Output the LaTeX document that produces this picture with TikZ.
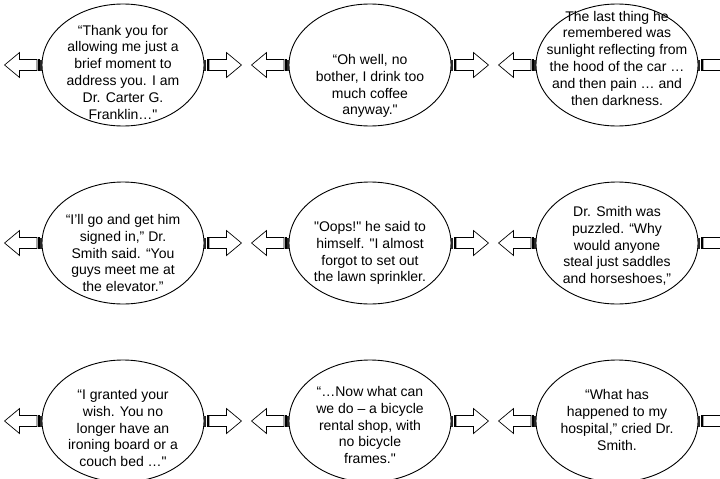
\documentclass[tikz,border=0pt]{standalone}
\usepackage{fontspec}
\setmainfont{Liberation Sans}[Ligatures=TeXOff]
\usetikzlibrary{shapes.geometric,positioning}
\tikzstyle{bubble} = [ellipse, draw, line width=0.9pt,
    minimum width=162pt, minimum height=122pt, inner sep=0pt]
\tikzstyle{quote} = [align=center, inner sep=0pt,
    font=\fontsize{14}{16.8}\selectfont]
\tikzset{stripearrow/.pic={
    \fill[black!85] (0,-5.5) rectangle (1.6,5.5);
    \draw[fill=black!45, line width=0.4pt] (2.4,-5.5) rectangle (3.8,5.5);
    \draw[fill=white, line width=0.7pt] (4.6,-5.5) -- (22,-5.5) -- (22,-12.5)
        -- (37,0) -- (22,12.5) -- (22,5.5) -- (4.6,5.5) -- cycle;
}}

\begin{document}
\begin{tikzpicture}[x=1pt, y=-1pt, node distance=247pt]
    \useasboundingbox (0,0) rectangle (720,479);
    \clip (0,0) rectangle (720,479);
    % Place bubbles
    \node [bubble] (b11) at (123,65) {};
    \node [bubble, right of=b11] (b12) {};
    \node [bubble, right of=b12] (b13) {};
    \node [bubble, below of=b11, node distance=178pt] (b21) {};
    \node [bubble, right of=b21] (b22) {};
    \node [bubble, right of=b22] (b23) {};
    \node [bubble, below of=b21, node distance=178pt] (b31) {};
    \node [bubble, right of=b31] (b32) {};
    \node [bubble, right of=b32] (b33) {};

    % Quotes
    \node [quote] (q11) at ([yshift=-7pt]b11.center) {“Thank you for\\allowing me just a\\brief moment to\\address you. I am\\Dr. Carter G.\\Franklin…"};
    \node [quote] (q12) at ([yshift=-21pt]b12.center) {“Oh well, no\\bother, I drink too\\much coffee\\anyway."};
    \node [quote] (q13) at ([yshift=7pt]b13.center) {The last thing he\\remembered was\\sunlight reflecting from\\the hood of the car …\\and then pain … and\\then darkness.};
    \node [quote] (q21) at ([yshift=-10pt]b21.center) {“I’ll go and get him\\signed in,” Dr.\\Smith said. “You\\guys meet me at\\the elevator.”};
    \node [quote] (q22) at ([yshift=-10pt]b22.center) {"Oops!" he said to\\himself. "I almost\\forgot to set out\\the lawn sprinkler.};
    \node [quote] (q23) at ([yshift=-3pt]b23.center) {Dr. Smith was\\puzzled. “Why\\would anyone\\steal just saddles\\and horseshoes,”};
    \node [quote] (q31) at ([yshift=-7pt]b31.center) {“I granted your\\wish. You no\\longer have an\\ironing board or a\\couch bed …"};
    \node [quote] (q32) at ([yshift=-4pt]b32.center) {“…Now what can\\we do – a bicycle\\rental shop, with\\no bicycle\\frames."};
    \node [quote] (q33) at ([yshift=1pt]b33.center) {“What has\\happened to my\\hospital,” cried Dr.\\Smith.};

    % Striped arrows
    \path (b11.west) pic[rotate=180] {stripearrow};
    \path (b11.east) pic {stripearrow};
    \path (b12.west) pic[rotate=180] {stripearrow};
    \path (b12.east) pic {stripearrow};
    \path (b13.west) pic[rotate=180] {stripearrow};
    \path (b13.east) pic {stripearrow};
    \path (b21.west) pic[rotate=180] {stripearrow};
    \path (b21.east) pic {stripearrow};
    \path (b22.west) pic[rotate=180] {stripearrow};
    \path (b22.east) pic {stripearrow};
    \path (b23.west) pic[rotate=180] {stripearrow};
    \path (b23.east) pic {stripearrow};
    \path (b31.west) pic[rotate=180] {stripearrow};
    \path (b31.east) pic {stripearrow};
    \path (b32.west) pic[rotate=180] {stripearrow};
    \path (b32.east) pic {stripearrow};
    \path (b33.west) pic[rotate=180] {stripearrow};
    \path (b33.east) pic {stripearrow};
\end{tikzpicture}
\end{document}
